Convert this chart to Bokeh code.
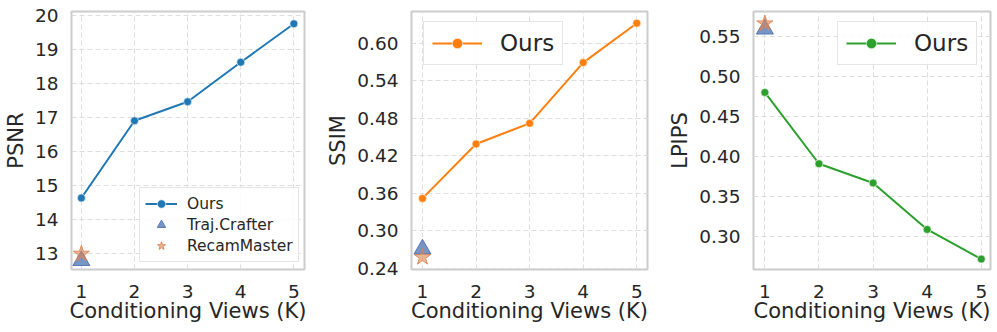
from bokeh.plotting import figure
from bokeh.layouts import row
from bokeh.models import Range1d, FixedTicker, Legend, LegendItem, CustomJSTickFormatter
from bokeh.embed import file_html
from bokeh.resources import INLINE

views = [1, 2, 3, 4, 5]
psnr_ours = [14.64, 16.91, 17.47, 18.63, 19.76]
ssim_ours = [0.352, 0.439, 0.472, 0.569, 0.632]
lpips_ours = [0.480, 0.391, 0.367, 0.309, 0.272]
base_view = [1]
psnr_traj = [12.80]
psnr_recam = [13.00]
ssim_traj = [0.271]
ssim_recam = [0.258]
lpips_traj = [0.559]
lpips_recam = [0.566]

psnr_ticks = [13, 14, 15, 16, 17, 18, 19, 20]
ssim_ticks = [0.24, 0.30, 0.36, 0.42, 0.48, 0.54, 0.60]
lpips_ticks = [0.30, 0.35, 0.40, 0.45, 0.50, 0.55]

FONT = "DejaVu Sans"
TXT = "#262626"
C_OURS = ["#1f77b4", "#ff7f0e", "#2ca02c"]
C_TRAJ = "#4c72b0"
C_RECAM = "#dd8452"
H = 332


def make(width, bl, br, yr, xr, ylabel, yticks, ours, traj, recam, color, fmt):
    p = figure(width=width, height=H, output_backend="svg", toolbar_location=None,
               x_range=Range1d(*xr), y_range=Range1d(*yr),
               min_border_left=bl, min_border_right=br, min_border_top=11, min_border_bottom=63)
    p.outline_line_color = "#cccccc"
    p.outline_line_width = 2
    for ax in (p.xaxis[0], p.yaxis[0]):
        ax.axis_line_color = None
        ax.major_tick_out = 0
        ax.major_tick_in = 0
        ax.minor_tick_out = 0
        ax.minor_tick_in = 0
        ax.major_label_text_font = FONT
        ax.major_label_text_font_size = "18.5px"
        ax.major_label_text_color = TXT
        ax.axis_label_text_font = FONT
        ax.axis_label_text_font_size = "21px"
        ax.axis_label_text_font_style = "normal"
        ax.axis_label_text_color = TXT
    p.xaxis.ticker = FixedTicker(ticks=views)
    p.yaxis.ticker = FixedTicker(ticks=yticks)
    p.yaxis.formatter = CustomJSTickFormatter(code="return tick.toFixed(%d);" % fmt)
    p.xaxis.axis_label = "Conditioning Views (K)"
    p.yaxis.axis_label = ylabel
    p.xaxis.major_label_standoff = 15
    p.yaxis.major_label_standoff = 13
    p.xaxis.axis_label_standoff = -2
    p.yaxis.axis_label_standoff = 4
    for g in (p.xgrid[0], p.ygrid[0]):
        g.grid_line_color = "#dddddd"
        g.grid_line_dash = "5 3"
        g.grid_line_width = 1
    ln = p.line(views, ours, line_color=color, line_width=2)
    sc = p.scatter(views, ours, size=8, fill_color=color, line_color="white", line_width=0.6)
    tr = p.scatter(base_view, traj, marker="triangle", size=17, fill_color=C_TRAJ,
                   fill_alpha=0.75, line_color=C_TRAJ, line_alpha=0.9, line_width=1)
    st = p.scatter(base_view, recam, marker="star", size=17, fill_color=C_RECAM,
                   fill_alpha=0.6, line_color=C_RECAM, line_alpha=0.9, line_width=1)
    return p, ln, sc, tr, st


p1, l1, s1, t1, r1 = make(318, 68, 14, (12.54, 20.12), (0.814, 5.2), "PSNR", psnr_ticks,
                          psnr_ours, psnr_traj, psnr_recam, C_OURS[0], 0)
leg1 = Legend(items=[LegendItem(label="Ours", renderers=[l1, s1]),
                     LegendItem(label="Traj.Crafter", renderers=[t1]),
                     LegendItem(label="RecamMaster", renderers=[r1])],
              location=(68, 7), margin=0, padding=5, spacing=0,
              glyph_width=32, glyph_height=21, label_height=21, label_standoff=10,
              label_text_font=FONT, label_text_font_size="15.5px", label_text_color=TXT,
              border_line_color="#cccccc", border_line_width=1.2,
              background_fill_alpha=0.85)
p1.add_layout(leg1, "center")

p2, l2, s2, t2, r2 = make(344, 93, 15, (0.2384, 0.6507), (0.795, 5.2), "SSIM", ssim_ticks,
                          ssim_ours, ssim_traj, ssim_recam, C_OURS[1], 2)
leg2 = Legend(items=[LegendItem(label="Ours", renderers=[l2, s2])],
              location=(12, 204), margin=0, padding=8, spacing=0,
              glyph_width=50, glyph_height=26, label_height=26, label_standoff=18,
              label_text_font=FONT, label_text_font_size="23px", label_text_color=TXT,
              border_line_color="#cccccc", border_line_width=1.2,
              background_fill_alpha=0.85)
p2.add_layout(leg2, "center")

p3, l3, s3, t3, r3 = make(335, 91, 7, (0.259, 0.581), (0.79, 5.17), "LPIPS", lpips_ticks,
                          lpips_ours, lpips_traj, lpips_recam, C_OURS[2], 2)
leg3 = Legend(items=[LegendItem(label="Ours", renderers=[l3, s3])],
              location=(84, 204), margin=0, padding=8, spacing=0,
              glyph_width=50, glyph_height=26, label_height=26, label_standoff=18,
              label_text_font=FONT, label_text_font_size="23px", label_text_color=TXT,
              border_line_color="#cccccc", border_line_width=1.2,
              background_fill_alpha=0.85)
p3.add_layout(leg3, "center")

layout = row(p1, p2, p3)
open("out.html", "w").write(file_html(layout, INLINE))
